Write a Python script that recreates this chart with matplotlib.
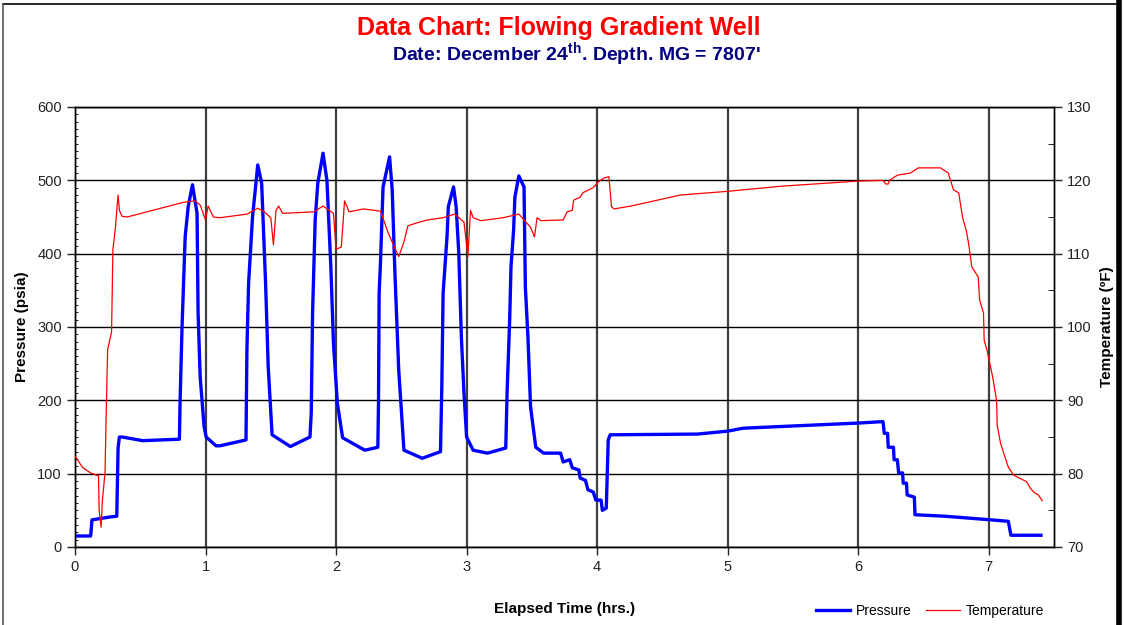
import matplotlib
matplotlib.use("Agg")
import matplotlib.pyplot as plt
from matplotlib.lines import Line2D
from matplotlib.ticker import MultipleLocator

plt.rcParams["font.family"] = ["Liberation Sans", "DejaVu Sans"]
plt.rcParams["mathtext.fontset"] = "custom"
plt.rcParams["mathtext.rm"] = "Liberation Sans"
plt.rcParams["mathtext.bf"] = "Liberation Sans:bold"

# Pressure (psia) vs elapsed time (hrs)
press_t = [
    0.00, 0.12, 0.13, 0.27, 0.32, 0.33, 0.34, 0.36, 0.52, 0.80,
    0.805, 0.82, 0.844, 0.867, 0.90, 0.935, 0.943, 0.959, 0.989, 1.005, 1.08, 1.11,
    1.31, 1.317, 1.33, 1.36, 1.40, 1.43, 1.46, 1.48, 1.51, 1.65, 1.80,
    1.81, 1.82, 1.84, 1.86, 1.90, 1.93, 1.96, 1.98, 2.01, 2.05, 2.22, 2.32,
    2.325, 2.33, 2.34, 2.36, 2.41, 2.43, 2.45, 2.48, 2.50, 2.52, 2.66, 2.80,
    2.81, 2.82, 2.85, 2.86, 2.90, 2.92, 2.94, 2.96, 2.98, 3.00, 3.05, 3.16, 3.30,
    3.31, 3.33, 3.34, 3.36, 3.37, 3.40, 3.44, 3.45, 3.47, 3.49, 3.53, 3.59, 3.72,
    3.74, 3.79, 3.81, 3.86, 3.87, 3.91, 3.93, 3.97, 3.99, 4.03, 4.04, 4.07,
    4.085, 4.10, 4.77, 5.00, 5.12, 6.00, 6.19,
    6.20, 6.225, 6.23, 6.27, 6.275, 6.30, 6.31, 6.34, 6.345, 6.37, 6.375, 6.43,
    6.435, 6.66, 7.02, 7.15, 7.17, 7.40,
]
press_psia = [
    15, 15, 37, 41, 42, 135, 150, 150, 145, 147,
    198, 300, 423, 464, 494, 455, 319, 232, 164, 150, 138, 138,
    146, 269, 360, 450, 521, 496, 360, 246, 153, 137, 150,
    183, 319, 446, 496, 537, 500, 382, 278, 196, 149, 132, 136,
    196, 346, 387, 491, 532, 487, 378, 241, 187, 132, 121, 130,
    218, 346, 423, 464, 491, 464, 401, 286, 210, 150, 132, 128, 135,
    210, 310, 382, 432, 477, 506, 491, 355, 286, 191, 136, 128, 128,
    116, 119, 108, 105, 94, 91, 78, 75, 64, 64, 50, 53,
    146, 153, 154, 158, 162, 169, 171,
    155, 155, 136, 136, 119, 119, 101, 101, 87, 87, 71, 68,
    44, 42, 37, 35, 16, 16,
]

# Temperature (F) vs elapsed time (hrs)
temp_t = [
    0.00, 0.06, 0.12, 0.18, 0.185, 0.20, 0.21, 0.23, 0.24, 0.25,
    0.28, 0.285, 0.29, 0.31, 0.32, 0.33, 0.34, 0.36, 0.40, 0.83,
    0.92, 0.96, 1.00, 1.02, 1.06, 1.11, 1.32, 1.40, 1.45, 1.50,
    1.52, 1.54, 1.56, 1.59, 1.83, 1.90, 1.98, 2.00, 2.04, 2.055,
    2.065, 2.10, 2.21, 2.34, 2.40, 2.48, 2.52, 2.55, 2.62, 2.70,
    2.82, 2.91, 2.98, 3.01, 3.03, 3.05, 3.11, 3.28, 3.40, 3.49,
    3.52, 3.54, 3.57, 3.74, 3.77, 3.81, 3.82, 3.87, 3.89, 3.97,
    4.01, 4.05, 4.09, 4.11, 4.13, 4.26, 4.64, 5.00, 5.41, 6.00,
    6.19, 6.21, 6.23, 6.24, 6.30, 6.40, 6.46, 6.63, 6.69, 6.73,
    6.77, 6.80, 6.83, 6.85, 6.87, 6.92, 6.93, 6.96, 6.965, 6.99,
    7.03, 7.06, 7.065, 7.09, 7.12, 7.15, 7.19, 7.29, 7.32, 7.35,
    7.38, 7.41,
]
temp_f = [
    82.4, 80.8, 80.1, 79.7, 75.0, 72.7, 76.4, 80.1, 89.1, 96.9,
    99.3, 104.6, 110.5, 113.6, 115.9, 118.0, 115.9, 115.1, 115.0, 117.0,
    117.2, 116.6, 114.6, 116.5, 115.0, 114.9, 115.4, 116.2, 115.7, 114.9,
    111.2, 115.9, 116.5, 115.5, 115.7, 116.5, 115.5, 110.6, 110.9, 114.6,
    117.2, 115.7, 116.1, 115.8, 112.8, 109.6, 111.6, 113.8, 114.2, 114.6,
    114.9, 115.4, 114.3, 109.6, 115.9, 114.9, 114.5, 114.9, 115.4, 113.6,
    112.3, 114.9, 114.5, 114.6, 115.7, 115.9, 117.3, 117.7, 118.3, 119.0,
    119.8, 120.3, 120.5, 116.4, 116.1, 116.5, 118.0, 118.5, 119.2, 119.9,
    120.0, 119.5, 119.5, 120.0, 120.7, 121.0, 121.7, 121.7, 121.0, 118.7,
    118.3, 114.9, 113.0, 110.9, 108.2, 106.8, 103.7, 101.9, 98.2, 96.6,
    93.2, 90.0, 86.6, 84.2, 82.5, 80.9, 79.8, 78.9, 78.0, 77.4,
    77.1, 76.3,
]

fig = plt.figure(figsize=(11.24, 6.25), dpi=100)
ax = fig.add_axes([75 / 1124, 1 - 547 / 625, (1054 - 75) / 1124, (547 - 107) / 625])
ax2 = ax.twinx()

ax.plot(press_t, press_psia, color="#0000FF", lw=2.4, label="Pressure", zorder=3)
ax2.plot(temp_t, temp_f, color="#FF0000", lw=0.9, label="Temperature", zorder=3)

ax.set_xlim(0, 7.5)
ax.set_ylim(0, 600)
ax2.set_ylim(70, 130)
ax.set_xticks(range(0, 8))
ax.set_yticks(range(0, 601, 100))
ax2.set_yticks(range(70, 131, 10))
ax2.yaxis.set_minor_locator(MultipleLocator(5))
ax.yaxis.set_minor_locator(MultipleLocator(10))

for a in (ax, ax2):
    a.tick_params(labelsize=10.5, colors="#222222", width=1, length=6)
ax.tick_params(axis="y", which="minor", length=2, direction="in")
ax2.tick_params(axis="y", which="minor", length=4, direction="in")

# grid
ax.grid(axis="y", color="black", lw=1)
ax.grid(axis="x", color="#404040", lw=1.6)
ax.set_axisbelow(True)
for a in (ax, ax2):
    for s in a.spines.values():
        s.set_color("black")
        s.set_linewidth(1)

ax.set_xlabel("Elapsed Time (hrs.)", fontsize=11, fontweight="bold", labelpad=20)
ax.set_ylabel("Pressure (psia)", fontsize=11, fontweight="bold", labelpad=6)
ax2.set_ylabel("Temperature (\u00baF)", fontsize=11, fontweight="bold", labelpad=6)

fig.text(559 / 1124, 1 - 28 / 625, "Data Chart: Flowing Gradient Well", color="#FF0000",
         fontsize=18, fontweight="bold", ha="center", va="center")
fig.text(576 / 1124, 1 - 55 / 625, r"Date: December 24$^{\mathbf{th}}$. Depth. MG = 7807'",
         color="#000080", fontsize=14, fontweight="bold", ha="center", va="center")

h1, l1 = ax.get_legend_handles_labels()
h2, l2 = ax2.get_legend_handles_labels()
fig.legend(h1 + h2, l1 + l2, loc="center", bbox_to_anchor=(930 / 1124, 1 - 611 / 625),
           ncol=2, frameon=False, fontsize=10, handlelength=2.5, handletextpad=0.4,
           columnspacing=1.0)

# outer frame like the original chart area
fig.add_artist(Line2D([3 / 1124, 1116 / 1124], [1 - 4 / 625, 1 - 4 / 625], color="black", lw=1.2))
fig.add_artist(Line2D([3 / 1124, 3 / 1124], [0, 1 - 4 / 625], color="#555555", lw=1.2))
fig.add_artist(Line2D([1119 / 1124, 1119 / 1124], [0, 1], color="black", lw=4))

fig.savefig("out.png", dpi=100)
